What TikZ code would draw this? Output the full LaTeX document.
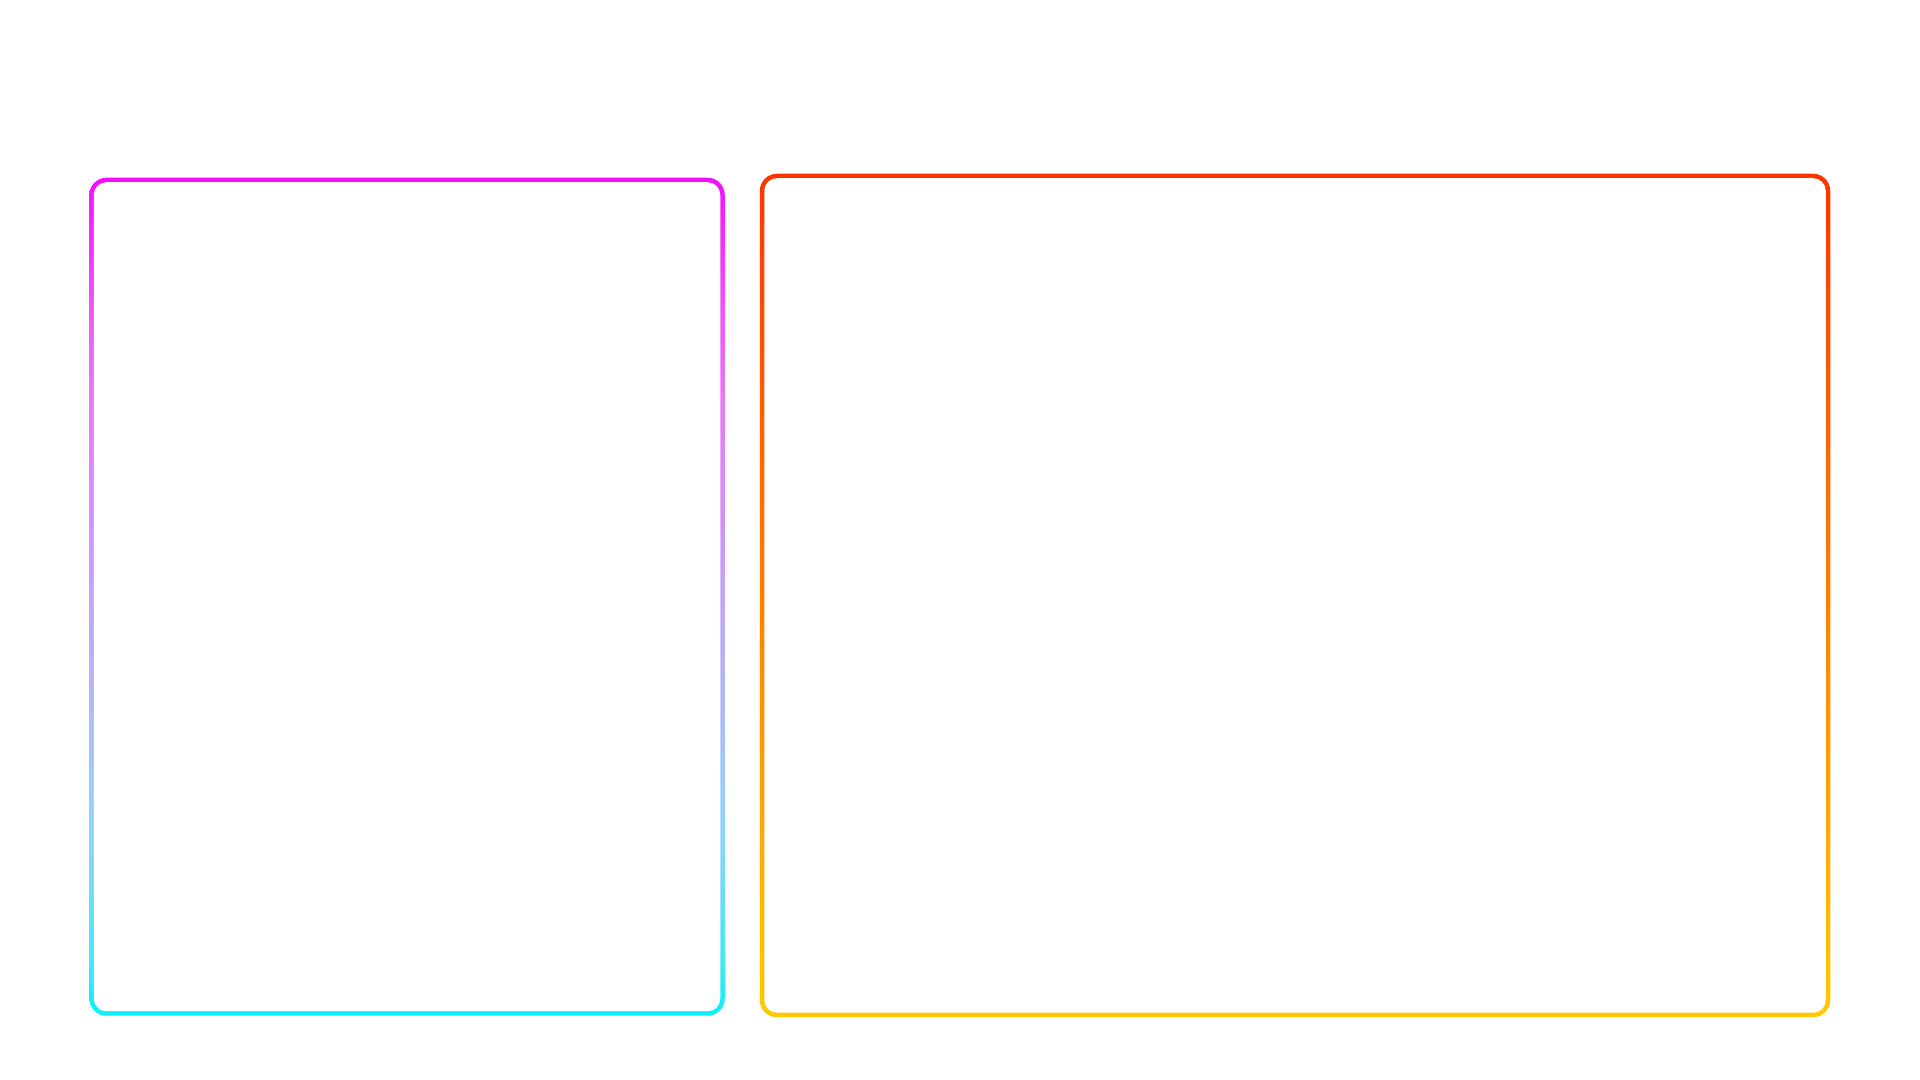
\documentclass[tikz,border=0pt]{standalone}
\usepackage{tikz}
\usepackage{xcolor}
\newcommand{\Rim}{0.0225}
\definecolor{rimmagenta}{RGB}{248,12,252}
\definecolor{rimcyan}{RGB}{6,240,255}
\definecolor{rimred}{RGB}{255,52,0}
\definecolor{rimgold}{RGB}{255,202,0}
\pgfdeclareverticalshading{leftrim}{100bp}{color(0bp)=(rimcyan); color(25bp)=(rimcyan);
	color(28.2bp)=(rgb,255:red,64;green,232;blue,248); color(34.2bp)=(rgb,255:red,128;green,216;blue,248);
	color(37.8bp)=(rgb,255:red,152;green,208;blue,248); color(43.8bp)=(rgb,255:red,176;green,184;blue,248);
	color(51bp)=(rgb,255:red,200;green,160;blue,248); color(61.8bp)=(rgb,255:red,232;green,120;blue,248);
	color(67.8bp)=(rgb,255:red,240;green,80;blue,248); color(75bp)=(rimmagenta); color(100bp)=(rimmagenta)}

\begin{document}
\begin{tikzpicture}
		\useasboundingbox (0,0) rectangle (19.2,10.8);
		\coordinate (LA) at (0.915,0.665);% left panel, lower left
		\coordinate (LB) at (7.225,9.00);% left panel, upper right
		\coordinate (RA) at (7.62,0.65);% right panel, lower left
		\coordinate (RB) at (18.28,9.04);% right panel, upper right

		\shade[shading=leftrim,rounded corners=4.9pt] ([shift={(-\Rim,-\Rim)}]LA) rectangle ([shift={(\Rim,\Rim)}]LB);% Left Rim
		\fill[white,rounded corners=3.6pt] ([shift={(\Rim,\Rim)}]LA) rectangle ([shift={(-\Rim,-\Rim)}]LB);% Left Inside
		\shade[top color=rimred,bottom color=rimgold,rounded corners=4.9pt] ([shift={(-\Rim,-\Rim)}]RA) rectangle ([shift={(\Rim,\Rim)}]RB);% Right Rim
		\fill[white,rounded corners=3.6pt] ([shift={(\Rim,\Rim)}]RA) rectangle ([shift={(-\Rim,-\Rim)}]RB);% Right Inside
	\end{tikzpicture}
\end{document}
